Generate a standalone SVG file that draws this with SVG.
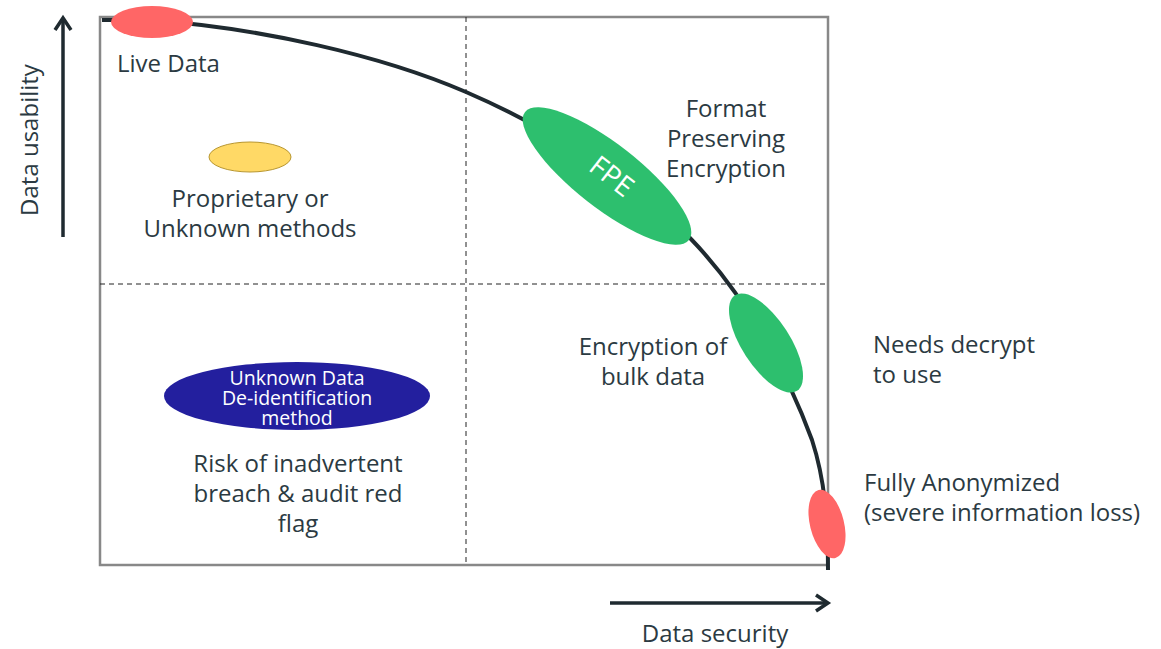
<svg xmlns="http://www.w3.org/2000/svg" width="1161" height="649" viewBox="0 0 1161 649">
<defs>
<style>
.t{font-family:"Open Sans","Noto Sans",sans-serif;font-size:24px;fill:#2b3a42}
.c{text-anchor:middle}
.w{font-family:"Open Sans","Noto Sans",sans-serif;fill:#ffffff;text-anchor:middle}
.dash{stroke:#222;stroke-width:1;stroke-dasharray:5,4;fill:none}
.axis{stroke:#1f2a30;stroke-width:3.5;fill:none}
</style>
</defs>
<rect width="1161" height="649" fill="#ffffff"/>
<g id="frame">
<rect x="100" y="17" width="728" height="548" fill="none" stroke="#888888" stroke-width="2.5"/>
<line class="dash" x1="466" y1="17" x2="466" y2="565"/>
<line class="dash" x1="100" y1="284" x2="828" y2="284"/>
</g>
<g id="connectors">
<path d="M102,20 L150,20 C260,28 380,55 466,92 C540,124 620,170 690,238 C750,300 790,380 812,440 C825,480 828,520 828,570" fill="none" stroke="#1f2a30" stroke-width="4"/>
<path class="axis" d="M63,237 L63,18"/>
<path d="M55,30 L63,18 L71,30" fill="none" stroke="#1f2a30" stroke-width="3.5"/>
<path class="axis" d="M610,603 L828,603"/>
<path d="M816,595 L828,603 L816,611" fill="none" stroke="#1f2a30" stroke-width="3.5"/>
</g>
<g id="live-data">
<ellipse cx="152" cy="22" rx="41" ry="16" fill="#ff6666"/>
<text class="t" x="117" y="72">Live Data</text>
</g>
<g id="proprietary">
<ellipse cx="250" cy="157" rx="41" ry="15" fill="#ffd966" stroke="#b8962e" stroke-width="1"/>
<text class="t c" x="250" y="207">Proprietary or</text>
<text class="t c" x="250" y="237">Unknown methods</text>
</g>
<g id="fpe">
<ellipse cx="607" cy="176" rx="104" ry="32" transform="rotate(38 607 176)" fill="#2dbf6e"/>
<text class="w" x="612" y="186" font-size="28" transform="rotate(38 612 176)">FPE</text>
<text class="t c" x="726" y="117">Format</text>
<text class="t c" x="726" y="147">Preserving</text>
<text class="t c" x="726" y="177">Encryption</text>
</g>
<g id="bulk">
<ellipse cx="766" cy="343" rx="57" ry="24" transform="rotate(57 766 343)" fill="#2dbf6e"/>
<text class="t c" x="653" y="355">Encryption of</text>
<text class="t c" x="653" y="385">bulk data</text>
</g>
<g id="decrypt">
<text class="t" x="873" y="353">Needs decrypt</text>
<text class="t" x="873" y="383">to use</text>
</g>
<g id="anonymized">
<ellipse cx="827" cy="524" rx="17" ry="35" transform="rotate(-14 827 524)" fill="#ff6666"/>
<text class="t" x="864" y="491">Fully Anonymized</text>
<text class="t" x="864" y="521">(severe information loss)</text>
</g>
<g id="unknown">
<ellipse cx="297" cy="396" rx="133" ry="34" fill="#231f9e"/>
<text class="w" x="297" y="385" font-size="19.5">Unknown Data</text>
<text class="w" x="297" y="405" font-size="19.5">De-identification</text>
<text class="w" x="297" y="425" font-size="19.5">method</text>
<text class="t c" x="298" y="472">Risk of inadvertent</text>
<text class="t c" x="298" y="502">breach &amp; audit red</text>
<text class="t c" x="298" y="532">flag</text>
</g>
<g id="axis-labels">
<text class="t c" x="715" y="642">Data security</text>
<text class="t c" transform="translate(38,140) rotate(-90)">Data usability</text>
</g>
</svg>
